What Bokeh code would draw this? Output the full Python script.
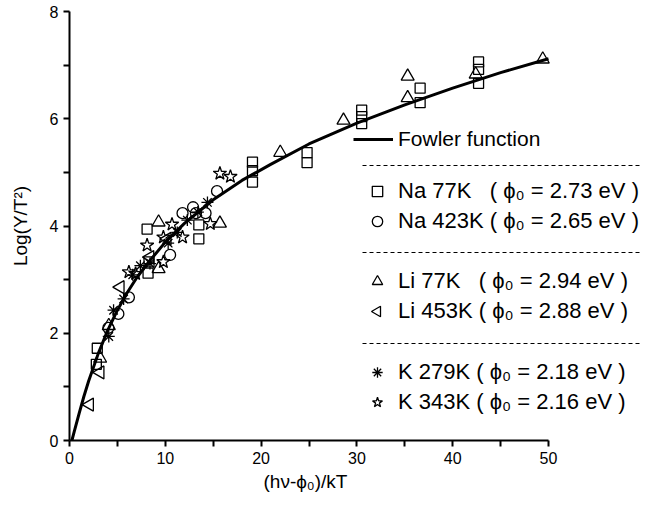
import numpy as np
from bokeh.plotting import figure
from bokeh.models import Range1d, FixedTicker, Legend, LegendItem, Title
from bokeh.embed import file_html
from bokeh.resources import INLINE

# ---- data ----
fowler_x = [0.25, 0.5, 1, 1.5, 2, 3, 4, 5, 6, 7, 8, 10, 12, 15, 18, 21, 25, 30, 35, 40, 45, 50]
fowler_y = [0.0, 0.17, 0.50, 0.82, 1.11, 1.62, 2.06, 2.43, 2.75, 3.03, 3.27, 3.70, 4.05, 4.49, 4.85, 5.15, 5.53, 5.92, 6.26, 6.57, 6.86, 7.12]

na77_x = [2.9, 2.8, 8.2, 8.3, 8.1, 13.5, 13.5, 19.1, 19.1, 19.1, 24.8, 24.8, 30.5, 30.5, 30.5, 36.6, 36.6, 42.7, 42.7, 42.7]
na77_y = [1.72, 1.42, 3.12, 3.33, 3.94, 4.02, 3.76, 5.19, 5.03, 4.82, 5.37, 5.18, 6.16, 6.04, 5.91, 6.57, 6.30, 7.06, 6.92, 6.66]

na423_x = [4.06, 5.1, 6.2, 10.5, 11.8, 12.9, 13.2, 14.2, 15.4]
na423_y = [2.10, 2.36, 2.67, 3.46, 4.24, 4.35, 4.24, 4.24, 4.65]

li77_x = [3.2, 4.1, 9.3, 9.3, 15.7, 22.0, 28.6, 35.3, 35.3, 42.4, 49.4]
li77_y = [1.53, 2.14, 3.20, 4.07, 4.05, 5.37, 5.97, 6.79, 6.39, 6.83, 7.11]

li453_x = [2.1, 3.2, 5.3, 8.4, 10.2]
li453_y = [0.67, 1.27, 2.86, 3.42, 3.76]

k279_x = [4.1, 4.6, 5.65, 6.6, 7.4, 8.4, 10.3, 11.25, 12.3, 13.4, 14.4]
k279_y = [1.94, 2.43, 2.64, 3.09, 3.26, 3.30, 3.68, 3.88, 4.11, 4.26, 4.44]

k343_x = [6.2, 6.9, 8.1, 9.8, 9.8, 10.7, 11.8, 14.7, 15.7, 16.8]
k343_y = [3.14, 3.11, 3.64, 3.33, 3.79, 4.03, 3.79, 4.04, 4.98, 4.92]

x_ticks = [0, 10, 20, 30, 40, 50]
x_minor = [5, 15, 25, 35, 45]
y_ticks = [0, 2, 4, 6, 8]
y_minor = [1, 3, 5, 7]

NB = "\u00a0"
labels = {
    "fowler": "Fowler function",
    "na77": "Na 77K" + NB * 3 + "( \u03d5\u2080 = 2.73 eV )",
    "na423": "Na 423K ( \u03d5\u2080 = 2.65 eV )",
    "li77": "Li 77K" + NB * 3 + "( \u03d5\u2080 = 2.94 eV )",
    "li453": "Li 453K ( \u03d5\u2080 = 2.88 eV )",
    "k279": "K 279K ( \u03d5\u2080 = 2.18 eV )",
    "k343": "K 343K ( \u03d5\u2080 = 2.16 eV )",
}
x_title = "(h\u03bd-\u03d5\u2080)/kT"
y_title = "Log(Y/T\u00b2)"

FONT = "Liberation Sans"

# ---- layout (page == figure coordinates) ----
W, H = 650, 505
BL, BR, BT, BB = 69, 0, 11, 65
frame_w = W - BL - BR
frame_h = H - BT - BB
px_per_x = 9.58
x_end = frame_w / px_per_x
px_per_y = frame_h / 8.0

p = figure(width=W, height=H, output_backend="svg", toolbar_location=None,
           x_range=Range1d(0, x_end), y_range=Range1d(0, 8),
           min_border_left=BL, min_border_right=BR, min_border_top=BT, min_border_bottom=BB)
p.outline_line_color = None
p.grid.visible = False
p.background_fill_color = "white"

for ax, ticks, minor in ((p.xaxis[0], x_ticks, x_minor), (p.yaxis[0], y_ticks, y_minor)):
    ax.ticker = FixedTicker(ticks=ticks, minor_ticks=minor)
    ax.axis_line_width = 2
    ax.major_tick_line_width = 2
    ax.minor_tick_line_width = 2
    ax.major_tick_out = 6
    ax.major_tick_in = 0
    ax.minor_tick_out = 6
    ax.minor_tick_in = 0
    ax.major_label_text_font = FONT
    ax.major_label_text_font_size = "16px"
    ax.major_label_text_color = "black"
    ax.axis_label_text_font = FONT
    ax.axis_label_text_font_size = "19px"
    ax.axis_label_text_font_style = "normal"
    ax.axis_label_text_color = "black"
    ax.axis_line_color = "black"
    ax.major_tick_line_color = "black"
    ax.minor_tick_line_color = "black"

p.xaxis[0].bounds = (0, 50)
p.yaxis[0].bounds = (0, 8)
p.yaxis[0].axis_label = y_title
p.yaxis[0].axis_label_standoff = 16

# x title placed under the middle of the 0-50 axis (the frame is wider than the axis)
p.add_layout(Title(text=x_title, align="left", offset=194, standoff=4,
                   text_font=FONT, text_font_size="19px", text_font_style="normal",
                   text_color="black"), "below")

curve = p.line(fowler_x, fowler_y, line_color="black", line_width=3)

mk = dict(line_color="black", fill_color=None, line_width=1.3)
r_na77 = p.scatter(na77_x, na77_y, marker="square", size=10, **mk)
r_na423 = p.scatter(na423_x, na423_y, marker="circle", size=11, **mk)
r_li77 = p.scatter(li77_x, li77_y, marker="triangle", size=13, **mk)
r_li453 = p.scatter(li453_x, li453_y, marker="triangle", size=13, angle=np.pi / 2, **mk)
r_k279 = p.scatter(k279_x, k279_y, marker="asterisk", size=12, **mk)
r_k343 = p.scatter(k343_x, k343_y, marker="star", size=14, **mk)

# invisible stand-in for the Li 453K legend row (legend icons ignore marker angle)
r_li453_key = p.scatter(li453_x[:1], li453_y[:1], marker="triangle", size=13,
                        line_alpha=0, fill_alpha=0)

# ---- legends (screen px relative to the frame's bottom-left) ----
def make_legend(items, loc, gw=26, gh=26, standoff=8, fs="22px"):
    lg = Legend(items=items, location=loc, orientation="vertical",
                glyph_width=gw, glyph_height=gh, label_height=gh, spacing=4,
                padding=0, margin=0, label_standoff=standoff,
                label_text_font=FONT, label_text_font_size=fs,
                label_text_color="black",
                border_line_alpha=0, background_fill_alpha=0)
    p.add_layout(lg, "center")
    return lg

make_legend([LegendItem(label=labels["fowler"], renderers=[curve])], (284, 288),
            gw=40, standoff=5, fs="21px")
make_legend([LegendItem(label=labels["na77"], renderers=[r_na77], index=0),
             LegendItem(label=labels["na423"], renderers=[r_na423], index=0)], (295, 206))
make_legend([LegendItem(label=labels["li77"], renderers=[r_li77], index=0),
             LegendItem(label=labels["li453"], renderers=[r_li453_key], index=0)], (295, 116))
make_legend([LegendItem(label=labels["k279"], renderers=[r_k279], index=0),
             LegendItem(label=labels["k343"], renderers=[r_k343], index=0)], (295, 25))

def sx(page_x):
    return (page_x - BL) / px_per_x

def sy(page_y):
    return (BT + frame_h - page_y) / px_per_y

# left-pointing legend key for Li 453K
p.scatter([sx(377)], [sy(311)], marker="triangle", size=10.4, angle=np.pi / 2,
          line_color="black", fill_color=None, line_width=1.3)

# dashed separators
sep_page_y = [165, 252, 343]
p.segment(x0=[sx(362)] * 3, x1=[sx(641)] * 3, y0=[sy(v) for v in sep_page_y],
          y1=[sy(v) for v in sep_page_y], line_color="black", line_width=1, line_dash="4 3")

open("out.html", "w").write(file_html(p, INLINE))
